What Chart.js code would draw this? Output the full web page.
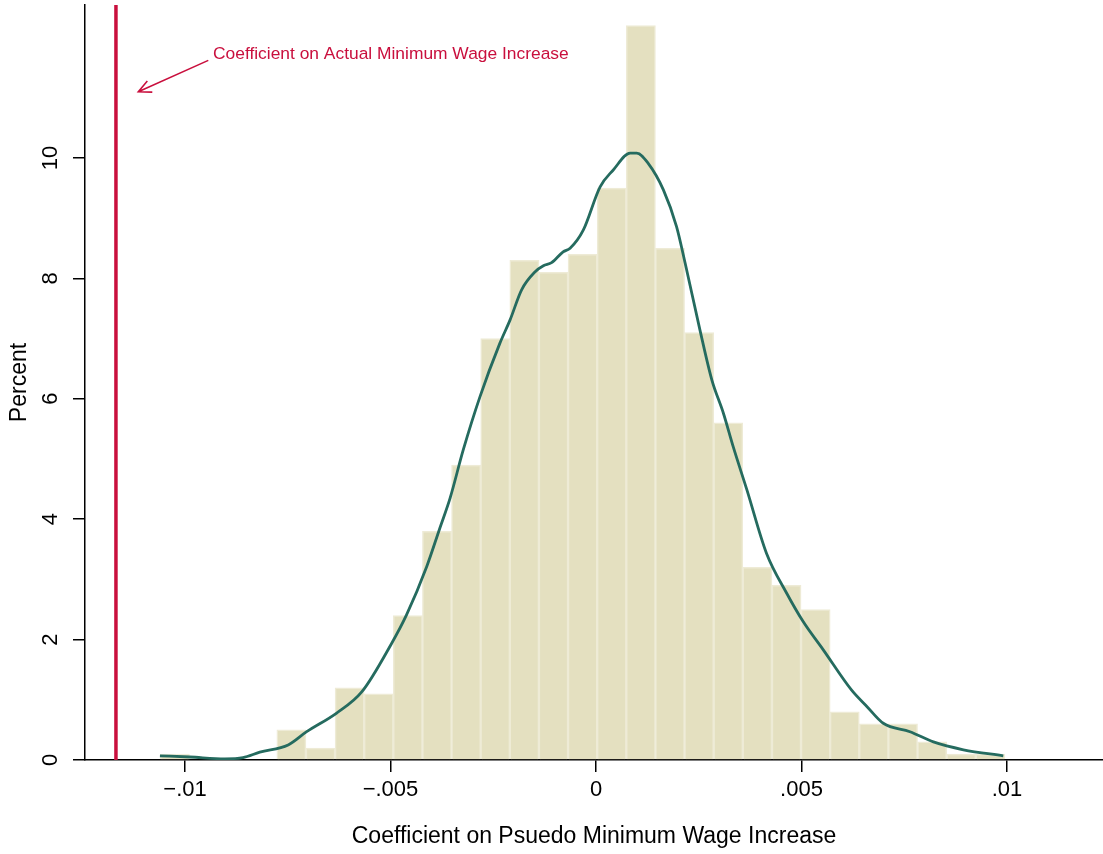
<!DOCTYPE html>
<html>
<head>
<meta charset="utf-8">
<script src="https://cdn.jsdelivr.net/npm/chart.js@4/dist/chart.umd.min.js"></script>
<style>
  html, body { margin: 0; padding: 0; background: #fff; }
  #wrap { width: 1103px; height: 854px; }
</style>
</head>
<body>
<div id="wrap"><canvas id="hist" width="1103" height="854"></canvas></div>
<script>
// --- Data ---
const binStart = -0.0106;
const binWidth = 0.0007086;
const binPercent = [0.1, 0, 0, 0, 0.5, 0.2, 1.2, 1.1, 2.4, 3.8, 4.9, 7.0, 8.3, 8.1, 8.4, 9.5,
                    12.2, 8.5, 7.1, 5.6, 3.2, 2.9, 2.5, 0.8, 0.6, 0.6, 0.3, 0.1, 0.1];

const kdeX = [-0.01061, -0.00988, -0.00903, -0.00859, -0.00818, -0.00749, -0.00704, -0.00631, -0.00570, -0.00497,
              -0.00461, -0.00412, -0.00380, -0.00355, -0.00323, -0.00282, -0.00234, -0.00209, -0.00181, -0.00148,
              -0.00128, -0.00108, -0.00080, -0.00063, -0.00031, 0.00010, 0.00042, 0.00083, 0.00099, 0.00127,
              0.00164, 0.00196, 0.00217, 0.00253, 0.00282, 0.00310, 0.00334, 0.00367, 0.00415, 0.00464,
              0.00504, 0.00553, 0.00622, 0.00659, 0.00699, 0.00764, 0.00821, 0.00894, 0.00991];
const kdeY = [0.07, 0.05, 0.02, 0.04, 0.13, 0.25, 0.47, 0.78, 1.13, 1.94,
              2.41, 3.21, 3.85, 4.35, 5.15, 6.04, 6.92, 7.31, 7.81, 8.11,
              8.21, 8.26, 8.44, 8.5, 8.8, 9.52, 9.8, 10.08, 10.08, 9.91,
              9.47, 8.86, 8.25, 7.14, 6.31, 5.76, 5.2, 4.49, 3.43, 2.77,
              2.3, 1.83, 1.16, 0.89, 0.61, 0.47, 0.3, 0.17, 0.07];

const actualCoef = -0.01168;

const xTickValues = [-0.01, -0.005, 0, 0.005, 0.01];
const xTickLabels = ['\u2212.01', '\u2212.005', '0', '.005', '.01'];
const yTickValues = [0, 2, 4, 6, 8, 10];
const yTickLabels = ['0', '2', '4', '6', '8', '10'];

const xMin = -0.012433, xMax = 0.012336;
const yMax = 12.54;

// annotation (data coordinates)
const noteText = 'Coefficient on Actual Minimum Wage Increase';
const noteAt = { x: -0.009319, y: 11.73 };
const arrowFrom = { x: -0.009433, y: 11.62 };
const arrowTo = { x: -0.011136, y: 11.10 };

const FONT = '"Liberation Sans", Arial, Helvetica, sans-serif';
const RED = '#c90f3d';

const barData = binPercent.map((p, i) => ({ x: binStart + (i + 0.5) * binWidth, y: p }));
const kdeData = kdeX.map((x, i) => ({ x: x, y: kdeY[i] }));

// --- Plugin: rotated y labels + annotation ---
const extras = {
    id: 'extras',
    afterDraw(chart) {
        const { ctx, scales: { x, y } } = chart;
        ctx.save();
        ctx.fillStyle = '#000';
        ctx.font = '22px ' + FONT;
        ctx.textAlign = 'center';
        ctx.textBaseline = 'middle';
        yTickValues.forEach((v, i) => {
            ctx.save();
            ctx.translate(51, y.getPixelForValue(v));
            ctx.rotate(-Math.PI / 2);
            ctx.fillText(yTickLabels[i], 0, 0);
            ctx.restore();
        });

        // arrow
        const x1 = x.getPixelForValue(arrowFrom.x), y1 = y.getPixelForValue(arrowFrom.y);
        const x2 = x.getPixelForValue(arrowTo.x), y2 = y.getPixelForValue(arrowTo.y);
        const ang = Math.atan2(y2 - y1, x2 - x1);
        const head = 14, spread = 0.45;
        ctx.strokeStyle = RED;
        ctx.lineWidth = 1.6;
        ctx.beginPath();
        ctx.moveTo(x1, y1); ctx.lineTo(x2, y2);
        ctx.moveTo(x2 - head * Math.cos(ang - spread), y2 - head * Math.sin(ang - spread));
        ctx.lineTo(x2, y2);
        ctx.lineTo(x2 - head * Math.cos(ang + spread), y2 - head * Math.sin(ang + spread));
        ctx.stroke();

        ctx.fillStyle = RED;
        ctx.font = '17.4px ' + FONT;
        ctx.textAlign = 'left';
        ctx.fillText(noteText, x.getPixelForValue(noteAt.x), y.getPixelForValue(noteAt.y));
        ctx.restore();
    }
};

new Chart(document.getElementById('hist').getContext('2d'), {
    type: 'bar',
    data: {
        datasets: [
            { type: 'line', data: kdeData, borderColor: '#256b5f', borderWidth: 2.8, pointRadius: 0,
              cubicInterpolationMode: 'monotone', fill: false, order: 0 },
            { type: 'line', data: [{ x: actualCoef, y: 0 }, { x: actualCoef, y: yMax }], borderColor: RED,
              borderWidth: 3.5, pointRadius: 0, fill: false, order: 1 },
            { type: 'bar', data: barData, backgroundColor: '#e4e0c0', borderColor: '#eeebd6', borderWidth: 1.5,
              barPercentage: 1, categoryPercentage: 1, order: 2 }
        ]
    },
    options: {
        responsive: false,
        animation: false,
        layout: { padding: { top: 5, right: 0, left: 0, bottom: 0 } },
        plugins: { legend: { display: false }, tooltip: { enabled: false } },
        scales: {
            x: {
                type: 'linear', min: xMin, max: xMax, offset: false,
                afterBuildTicks: s => { s.ticks = xTickValues.map(v => ({ value: v })); },
                afterFit: s => { s.height = 94; },
                ticks: {
                    autoSkip: false, maxRotation: 0, padding: 5, color: '#000',
                    font: { size: 22, family: FONT },
                    callback: v => { const i = xTickValues.findIndex(t => Math.abs(t - v) < 1e-9); return i < 0 ? '' : xTickLabels[i]; }
                },
                grid: { display: true, drawOnChartArea: false, drawTicks: true, tickLength: 12, color: '#000', lineWidth: 1.5, offset: false },
                border: { display: true, color: '#000', width: 1.5 },
                title: { display: true, text: 'Coefficient on Psuedo Minimum Wage Increase', color: '#000',
                         font: { size: 23, family: FONT }, padding: { top: 0, bottom: 4 } }
            },
            y: {
                min: 0, max: yMax,
                afterBuildTicks: s => { s.ticks = yTickValues.map(v => ({ value: v })); },
                afterFit: s => { s.width = 85; },
                ticks: { display: false },
                grid: { display: true, drawOnChartArea: false, drawTicks: true, tickLength: 12, color: '#000', lineWidth: 1.5 },
                border: { display: true, color: '#000', width: 1.5 },
                title: { display: true, text: 'Percent', color: '#000',
                         font: { size: 23, family: FONT }, padding: { top: 6, bottom: 0 } }
            }
        }
    },
    plugins: [extras]
});
</script>
</body>
</html>
